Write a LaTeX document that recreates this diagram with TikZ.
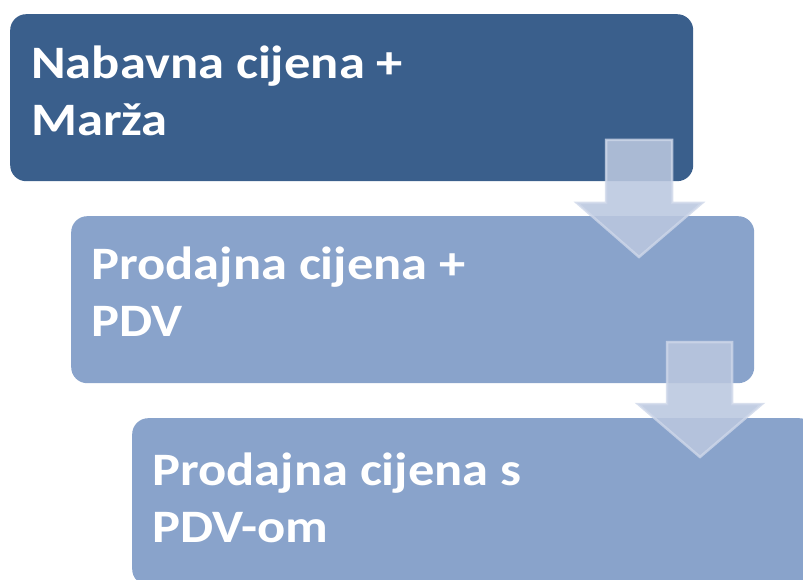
\documentclass[tikz,border=0pt]{standalone}
\usepackage{fontspec}
\setmainfont{Carlito}
\newfontfamily\stagefont[FakeStretch=1.13]{Carlito}
\definecolor{darkbox}{RGB}{58,95,140}
\definecolor{lightbox}{RGB}{137,163,203}
\definecolor{arrowfill}{RGB}{186,199,223}
\definecolor{arrowedge}{RGB}{206,215,233}
\begin{document}
\begin{tikzpicture}[x=1pt,y=-1pt,
  stagebox/.style={rectangle, rounded corners=16pt, inner sep=0pt, anchor=north west,
     minimum width=683pt, minimum height=167pt},
  stagetext/.style={anchor=base west, inner sep=0pt, align=left, text=white,
     font=\stagefont\fontsize{46.5pt}{57pt}\selectfont\bfseries},
  flowarrow/.style={fill=arrowfill, fill opacity=0.88, draw=arrowedge, draw opacity=0.8,
     line width=2.5pt, line join=miter}]
\useasboundingbox (0,0) rectangle (803,580);
\clip (0,0) rectangle (803,580);
\node[stagebox, fill=darkbox] (b1) at (10,14) {};
\node[stagebox, fill=lightbox] (b2) at (71,216) {};
\node[stagebox, fill=lightbox] (b3) at (132,418) {};
\node[stagetext] (t1) at (31,136) {Nabavna cijena +\\Marža};
\node[stagetext] (t2) at (91,336) {Prodajna cijena +\\PDV};
\node[stagetext] (t3) at (152,542) {Prodajna cijena s\\PDV-om};
% arrow 1
\draw[flowarrow] (606,140) -- (672,140) -- (672,203) -- (702,203) -- (639,257)
   -- (577,203) -- (606,203) -- cycle;
% arrow 2
\draw[flowarrow] (667,342) -- (732,342) -- (732,404) -- (762,404) -- (700,457)
   -- (638,404) -- (667,404) -- cycle;
\end{tikzpicture}
\end{document}
